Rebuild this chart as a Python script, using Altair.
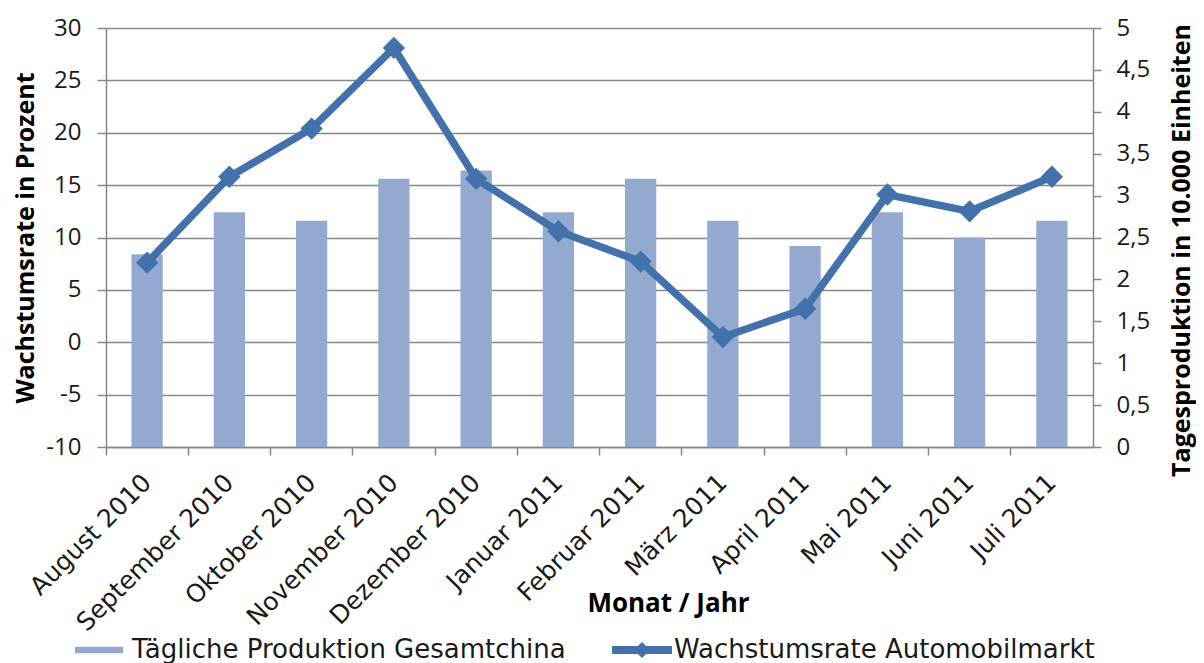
import altair as alt
import pandas as pd

months = ["August 2010", "September 2010", "Oktober 2010", "November 2010",
          "Dezember 2010", "Januar 2011", "Februar 2011", "März 2011",
          "April 2011", "Mai 2011", "Juni 2011", "Juli 2011"]
production = [2.3, 2.8, 2.7, 3.2, 3.3, 2.8, 3.2, 2.7, 2.4, 2.8, 2.5, 2.7]
growth = [7.6, 15.8, 20.4, 28.1, 15.6, 10.6, 7.7, 0.5, 3.2, 14.1, 12.5, 15.8]
left_ticks = [-10, -5, 0, 5, 10, 15, 20, 25, 30]
right_ticks = [0, 0.5, 1, 1.5, 2, 2.5, 3, 3.5, 4, 4.5, 5]
series_bar = "Tägliche Produktion Gesamtchina"
series_line = "Wachstumsrate Automobilmarkt"

df = pd.DataFrame({
    "Monat": months,
    "Produktion": production,
    "Wachstum": growth,
    "S1": [series_bar] * len(months),
    "S2": [series_line] * len(months),
})

FONT = "Open Sans"
WIDE = "DejaVu Sans"
BAR_COLOR = "#94A9CF"
LINE_COLOR = "#4371AB"
AXIS_GRAY = "#878787"

x_enc = alt.X(
    "Monat:N", sort=months, title="Monat / Jahr",
    scale=alt.Scale(paddingInner=0, paddingOuter=0),
    axis=alt.Axis(bandPosition=0, labelOffset=0, labelAngle=315, labelAlign="right",
                  labelBaseline="middle", labelPadding=23, tickSize=8, labelLimit=400,
                  labelFont=WIDE, labelFontSize=25,
                  titleX=562, titleY=156, titleBaseline="middle", titleAlign="center",
                  titleFontSize=26),
)

y_left = alt.Y(
    "Wachstum:Q",
    scale=alt.Scale(domain=[-10, 30], nice=False, zero=False),
    axis=alt.Axis(orient="left", values=left_ticks, title="Wachstumsrate in Prozent",
                  grid=True, tickSize=9, labelPadding=16, titleX=-81,
                  titleBaseline="middle",
                  labelExpr="replace(datum.label, '\u2212', '-')"),
)

y_right = alt.Y(
    "Produktion:Q",
    scale=alt.Scale(domain=[0, 5], nice=False),
    axis=alt.Axis(orient="right", values=right_ticks, title="Tagesproduktion in 10.000 Einheiten",
                  grid=False, tickSize=8, labelPadding=15, format=".1~f",
                  labelExpr="replace(datum.label, '.', ',')",
                  titleAngle=270, titleX=88, titleY=222, titleBaseline="middle",
                  titleFontSize=25),
)

bars = alt.Chart(df).mark_bar(width=alt.RelativeBandSize(0.38)).encode(
    x=x_enc,
    y=y_right,
    color=alt.Color("S1:N", scale=alt.Scale(range=[BAR_COLOR]),
                    legend=alt.Legend(orient="none", legendX=-31, legendY=598, title=None,
                                      symbolType="M-1,-0.14H1V0.14H-1Z", symbolSize=2304,
                                      symbolStrokeWidth=0, symbolOpacity=1,
                                      labelOffset=9, labelLimit=700)),
)

line = alt.Chart(df).mark_line(color=LINE_COLOR, strokeWidth=7.5).encode(
    x=x_enc,
    y=y_left,
)

points = alt.Chart(df).mark_point(filled=True, shape="diamond", size=500, opacity=1).encode(
    x=x_enc,
    y=y_left,
    color=alt.Color("S2:N", scale=alt.Scale(range=[LINE_COLOR]),
                    legend=alt.Legend(orient="none", legendX=506, legendY=592, title=None,
                                      symbolType="M-1,-0.13H1V0.13H-1Z M0,-0.27L0.27,0L0,0.27L-0.27,0Z",
                                      symbolSize=3600, symbolStrokeWidth=0, symbolOpacity=1,
                                      labelOffset=2, labelLimit=700)),
)

chart = alt.layer(bars, alt.layer(line, points)).resolve_scale(
    y="independent", color="independent"
).resolve_legend(color="independent").properties(
    width=987, height=419,
    autosize=alt.AutoSizeParams(type="none"),
    padding={"left": 98, "top": 20, "right": 103, "bottom": 216},
).configure_view(
    stroke=None
).configure_axis(
    labelFont=FONT, labelFontSize=24, labelColor="#1a1a1a",
    titleFont=FONT, titleFontSize=25, titleFontWeight="bold", titleColor="#000000",
    domainColor=AXIS_GRAY, domainWidth=1.5, tickColor=AXIS_GRAY, tickWidth=1.5,
    gridColor=AXIS_GRAY, gridWidth=1.4, gridOpacity=1,
).configure_legend(
    labelFont=WIDE, labelFontSize=26, labelColor="#1a1a1a", padding=0,
)

chart.save("out.html", embed_options={"renderer": "svg", "actions": False})
